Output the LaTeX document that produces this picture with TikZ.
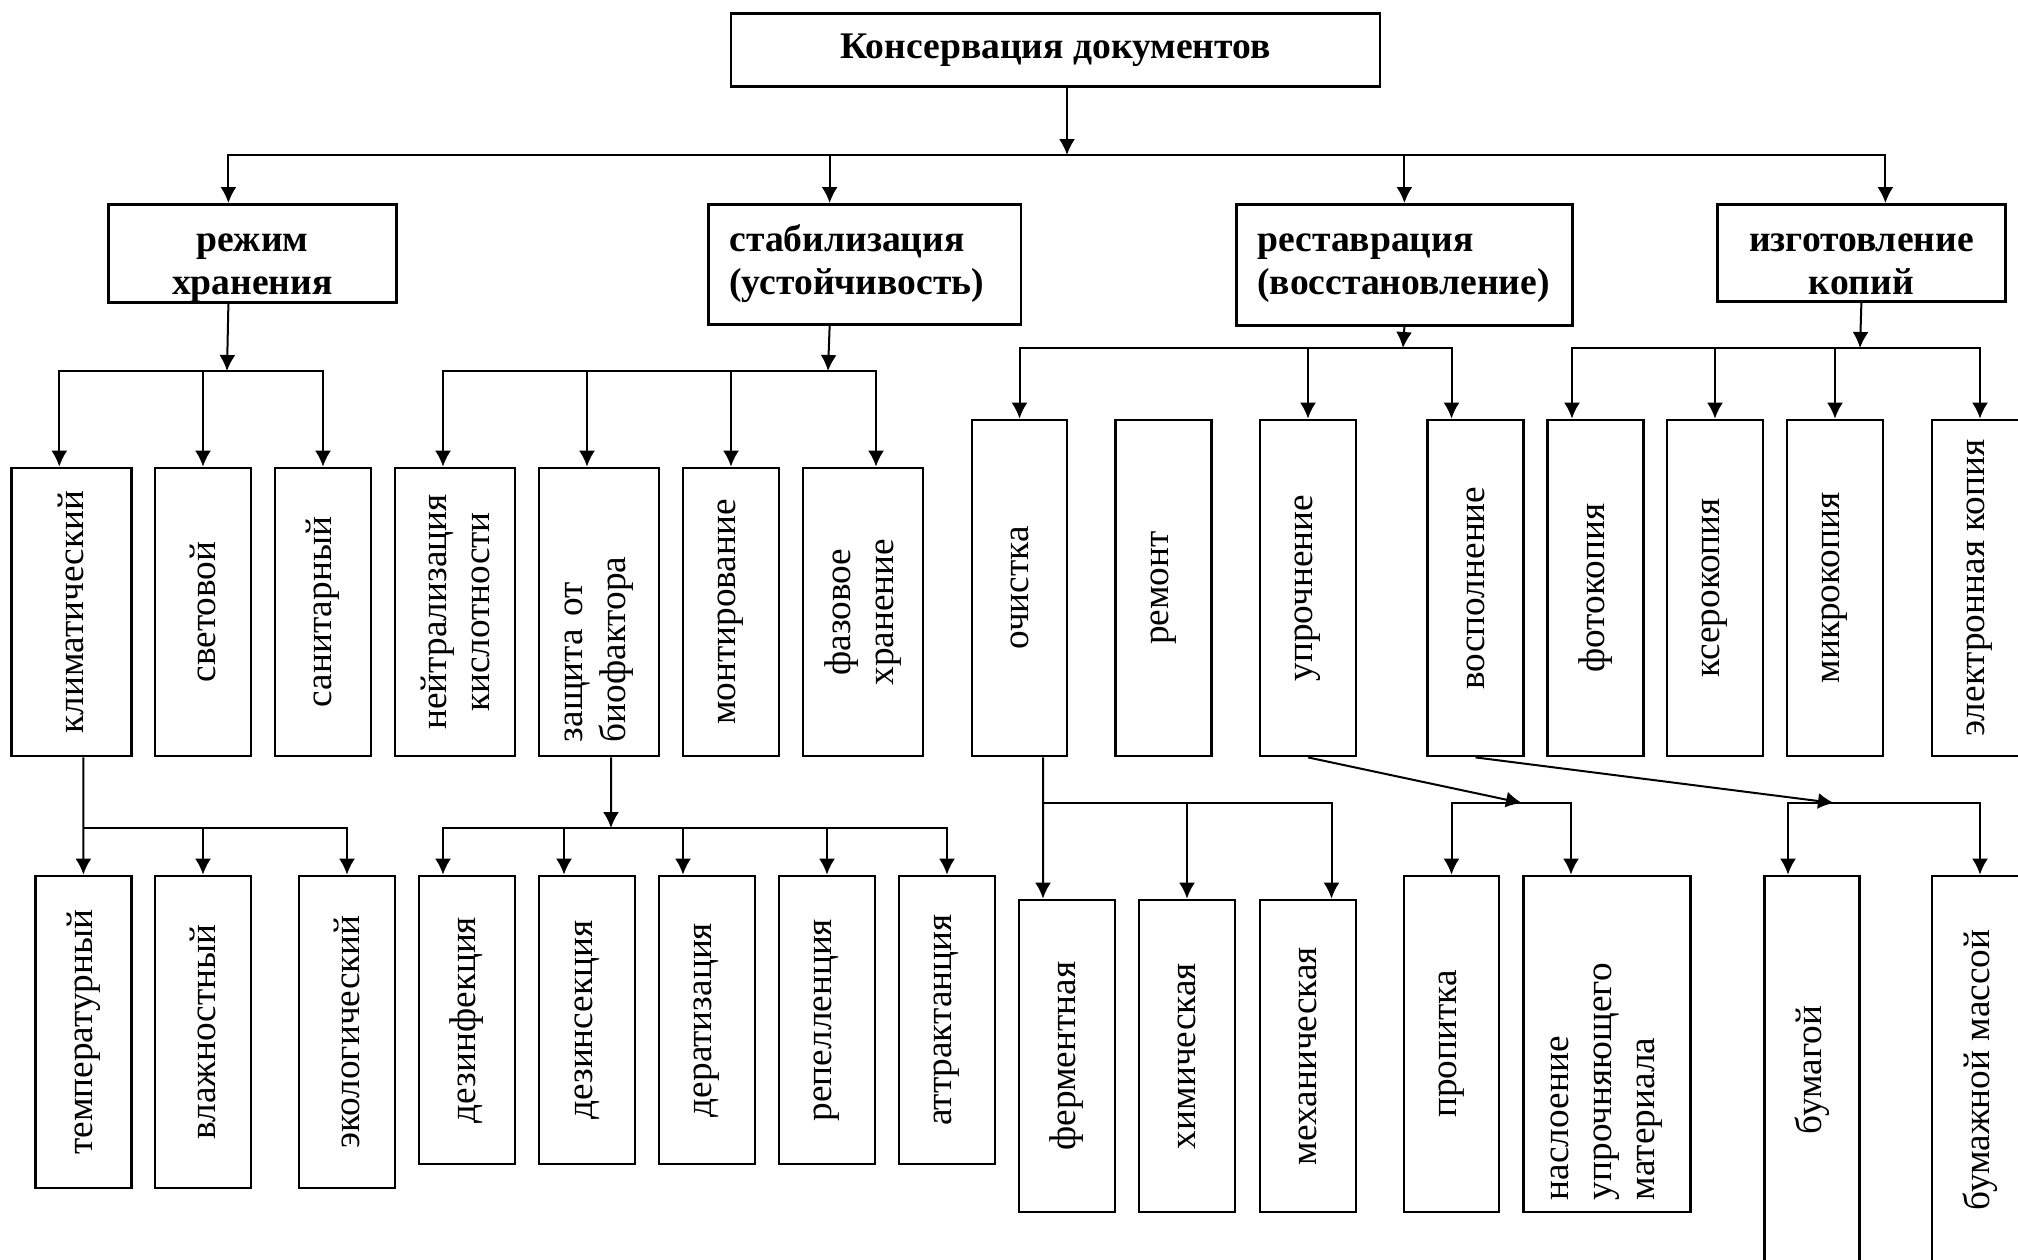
\documentclass[tikz,border=0pt]{standalone}
\usepackage{fontspec}
\setmainfont{Liberation Serif}
\usetikzlibrary{arrows.meta}

\begin{document}
\begin{tikzpicture}[x=0.1mm, y=-0.1mm, line width=0.2mm, >={Latex[length=1.6mm, width=1.6mm]},
	topbox/.style={draw, line width=0.28mm, font=\fontsize{10.7}{12.2}\selectfont\bfseries},
	headbox/.style={draw, line width=0.28mm, anchor=north west, inner xsep=2.1mm, inner ysep=0pt, text height=4.7mm, font=\fontsize{10.7}{12.2}\selectfont\bfseries},
	vbox/.style={draw, line width=0.28mm, rotate=90, inner sep=0pt, align=center, font=\fontsize{10.6}{12.2}\selectfont}]
	\useasboundingbox (0,0) rectangle (2018,1259);
	\clip (0,0) rectangle (2018,1259);

	% top
	\node[topbox, minimum width=64.9mm, minimum height=7.23mm] (title) at (1055.5,50) {Консервация документов};

	\node[headbox, text width=24.6mm, text depth=5.1mm, align=center] (regime) at (107,203) {режим\\хранения};
	\node[headbox, text width=27.05mm, text depth=7.3mm, align=left] (stab) at (707,203) {стабилизация\\(устойчивость)};
	\node[headbox, text width=29.4mm, text depth=7.4mm, align=left] (restav) at (1235,203) {реставрация\\(восстановление)};
	\node[headbox, text width=24.6mm, text depth=5.0mm, align=center] (copies) at (1716,203) {изготовление\\копий};

	% second row
	\node[vbox, minimum width=28.8mm, minimum height=12mm] (klim) at (71.3,612) {климатический};
	\node[vbox, minimum width=28.8mm, minimum height=9.6mm] (light) at (203,612) {световой};
	\node[vbox, minimum width=28.8mm, minimum height=9.6mm] (sanit) at (323,612) {санитарный};
	\node[vbox, minimum width=28.8mm, minimum height=12mm] (neutr) at (455,612) {нейтрализация\\кислотности};
	\node[vbox, minimum width=28.8mm, minimum height=12mm, text width=26mm, align=left] (bioprot) at (599,612) {защита от\\биофактора};
	\node[vbox, minimum width=28.8mm, minimum height=9.6mm] (mount) at (731,612) {монтирование};
	\node[vbox, minimum width=28.8mm, minimum height=12mm] (phase) at (863,612) {фазовое\\хранение};

	\node[vbox, minimum width=33.6mm, minimum height=9.5mm] (clean) at (1019.5,588) {очистка};
	\node[vbox, minimum width=33.6mm, minimum height=9.6mm] (repair) at (1163.5,588) {ремонт};
	\node[vbox, minimum width=33.6mm, minimum height=9.6mm] (strength) at (1308,588) {упрочнение};
	\node[vbox, minimum width=33.6mm, minimum height=9.6mm] (refill) at (1475.5,588) {восполнение};
	\node[vbox, minimum width=33.6mm, minimum height=9.6mm] (photo) at (1595.5,588) {фотокопия};
	\node[vbox, minimum width=33.6mm, minimum height=9.6mm] (xero) at (1715,588) {ксерокопия};
	\node[vbox, minimum width=33.6mm, minimum height=9.6mm] (micro) at (1835,588) {микрокопия};
	\node[vbox, minimum width=33.6mm, minimum height=9.6mm] (ecopy) at (1980,588) {электронная копия};

	% third row
	\node[vbox, minimum width=31.2mm, minimum height=9.6mm] (temp) at (83.4,1032) {температурный};
	\node[vbox, minimum width=31.2mm, minimum height=9.6mm] (humid) at (203,1032) {влажностный};
	\node[vbox, minimum width=31.2mm, minimum height=9.6mm] (eco) at (347,1032) {экологический};

	\node[vbox, minimum width=28.8mm, minimum height=9.6mm] (disinf) at (467,1020) {дезинфекция};
	\node[vbox, minimum width=28.8mm, minimum height=9.6mm] (disins) at (587,1020) {дезинсекция};
	\node[vbox, minimum width=28.8mm, minimum height=9.6mm] (derat) at (707,1020) {дератизация};
	\node[vbox, minimum width=28.8mm, minimum height=9.6mm] (repel) at (827,1020) {репелленция};
	\node[vbox, minimum width=28.8mm, minimum height=9.6mm] (attr) at (947,1020) {аттрактанция};

	\node[vbox, minimum width=31.2mm, minimum height=9.6mm] (ferm) at (1067,1056) {ферментная};
	\node[vbox, minimum width=31.2mm, minimum height=9.6mm] (chem) at (1187,1056) {химическая};
	\node[vbox, minimum width=31.2mm, minimum height=9.6mm] (mech) at (1308,1056) {механическая};

	\node[vbox, minimum width=33.6mm, minimum height=9.5mm] (impreg) at (1451.5,1044) {пропитка};
	\node[vbox, minimum width=33.6mm, minimum height=16.7mm, text width=31.2mm, align=left] (layer) at (1607,1044) {наслоение\\упрочняющего\\материала};

	\node[vbox, minimum width=38.8mm, minimum height=9.5mm] (paper) at (1812,1070) {бумагой};
	\node[vbox, minimum width=38.8mm, minimum height=9.6mm] (pulp) at (1980,1070) {бумажной массой};

	% connectors
	\coordinate (j0) at (1067,155);
	\draw[->] (title.south -| j0) -- (j0);
	\draw[->] (j0) -| ([xshift=-2.4mm]regime.north);
	\draw[->] (j0) -| ([xshift=-3.5mm]stab.north);
	\draw[->] (j0) -| (restav.north);
	\draw[->] (j0) -| ([xshift=2.4mm]copies.north);

	\coordinate (j1) at (227,371);
	\draw[->] ([xshift=-2.4mm]regime.south) -- (j1);
	\draw[->] (j1) -| ([xshift=-1.2mm]klim.east);
	\draw[->] (j1) -| (light.east);
	\draw[->] (j1) -| (sanit.east);

	\coordinate (j2) at (828,371);
	\draw[->] ([xshift=-3.5mm]stab.south) -- (j2);
	\draw[->] (j2) -| ([xshift=-1.2mm]neutr.east);
	\draw[->] (j2) -| ([xshift=-1.2mm]bioprot.east);
	\draw[->] (j2) -| (mount.east);
	\draw[->] (j2) -| ([xshift=1.3mm]phase.east);

	\coordinate (j3) at (1403,348);
	\draw[->] (restav.south) -- (j3);
	\draw[->] (j3) -| (clean.east);
	\draw[->] (j3) -| (strength.east);
	\draw[->] (j3) -| ([xshift=-2.4mm]refill.east);

	\coordinate (j4) at (1860,348);
	\draw[->] (copies.south) -- (j4);
	\draw[->] (j4) -| ([xshift=-2.35mm]photo.east);
	\draw[->] (j4) -| (xero.east);
	\draw[->] (j4) -| (micro.east);
	\draw[->] (j4) -| (ecopy.east);

	\coordinate (j5) at (83.4,828);
	\draw[->] ([xshift=1.2mm]klim.west) -- (temp.east);
	\draw[->] (j5) -| (humid.east);
	\draw[->] (j5) -| (eco.east);

	\coordinate (j6) at (611,828);
	\draw[->] ([xshift=1.2mm]bioprot.west) -- (j6);
	\draw[->] (j6) -| ([xshift=-2.4mm]disinf.east);
	\draw[->] (j6) -| ([xshift=-2.3mm]disins.east);
	\draw[->] (j6) -| ([xshift=-2.4mm]derat.east);
	\draw[->] (j6) -| (repel.east);
	\draw[->] (j6) -| (attr.east);

	\coordinate (j7) at (1043,803);
	\draw[->] ([xshift=2.35mm]clean.west) -- ([xshift=-2.4mm]ferm.east);
	\draw[->] (j7) -| (chem.east);
	\draw[->] (j7) -| ([xshift=2.35mm]mech.east);

	\coordinate (j8) at (1522,803);
	\draw[->] (strength.west) -- (j8);
	\draw[->] (j8) -| (impreg.east);
	\draw[->] (j8) -| ([xshift=-3.6mm]layer.east);

	\coordinate (j9) at (1834,803);
	\draw[->] (refill.west) -- (j9);
	\draw[->] (j9) -| ([xshift=-2.4mm]paper.east);
	\draw[->] (j9) -| (pulp.east);
\end{tikzpicture}
\end{document}
